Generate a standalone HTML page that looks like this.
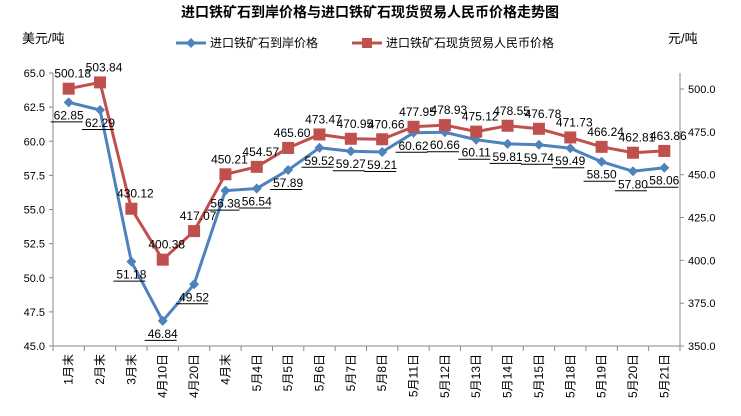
<!DOCTYPE html>
<html><head><meta charset="utf-8"><style>
body{margin:0;background:#fff;font-family:"Liberation Sans","Noto Sans CJK SC",sans-serif}
svg text{font-family:"Liberation Sans","Noto Sans CJK SC",sans-serif}
</style></head><body>
<svg id="c" width="741" height="411" xmlns="http://www.w3.org/2000/svg">
<text x="370" y="17" text-anchor="middle" font-size="14" font-weight="bold">进口铁矿石到岸价格与进口铁矿石现货贸易人民币价格走势图</text>
<text x="22" y="43" font-size="13">美元/吨</text>
<text x="668" y="43" font-size="13">元/吨</text>
<g>
<g><line x1="176" y1="43" x2="206" y2="43" stroke="#4f81bd" stroke-width="3"/><path d="M191 38 L196 43 L191 48 L186 43Z" fill="#4f81bd"/><text x="210" y="47" font-size="12">进口铁矿石到岸价格</text></g>
<g><line x1="352" y1="43" x2="382" y2="43" stroke="#c0504d" stroke-width="3"/><rect x="362" y="38" width="10" height="10" fill="#c0504d"/><text x="386" y="47" font-size="12">进口铁矿石现货贸易人民币价格</text></g>
</g>
<g id="axes"></g><g id="marks"></g>
</svg>
<script>
const categories=["1月末","2月末","3月末","4月10日","4月20日","4月末","5月4日","5月5日","5月6日","5月7日","5月8日","5月11日","5月12日","5月13日","5月14日","5月15日","5月18日","5月19日","5月20日","5月21日"];
const usdValues=[62.85,62.29,51.18,46.84,49.52,56.38,56.54,57.89,59.52,59.27,59.21,60.62,60.66,60.11,59.81,59.74,59.49,58.50,57.80,58.06];
const cnyValues=[500.18,503.84,430.12,400.38,417.07,450.21,454.57,465.60,473.47,470.95,470.66,477.95,478.93,475.12,478.55,476.78,471.73,466.24,462.81,463.86];
const leftTicks=[45,47.5,50,52.5,55,57.5,60,62.5,65];
const rightTicks=[350,375,400,425,450,475,500];
const NS="http://www.w3.org/2000/svg";
const L=53,R=680,T=73,B=346;
const yL=v=>B-(v-45)/(65-45)*(B-T);
const yR=v=>346-(v-350)/(500-350)*(346-89);
const step=(R-L)/categories.length;
const xC=i=>L+step*(i+0.5);
function mk(p,tag,a,txt){const e=document.createElementNS(NS,tag);for(const k in a)e.setAttribute(k,a[k]);if(txt!=null)e.textContent=txt;p.appendChild(e);return e;}
const ax=document.getElementById('axes'),mg=document.getElementById('marks');
let e=mk(ax,'line',{x1:L,y1:T,x2:L,y2:B,stroke:'#888'});

e=mk(ax,'line',{x1:R,y1:T,x2:R,y2:B,stroke:'#888'});

e=mk(ax,'line',{x1:L,y1:B,x2:R,y2:B,stroke:'#888'});

leftTicks.forEach(v=>{const y=yL(v);mk(ax,'line',{x1:L-4,y1:y,x2:L,y2:y,stroke:'#888'});
 const t=mk(ax,'text',{x:L-8,y:y+4,'font-size':11,'text-anchor':'end'},v.toFixed(1));
 });
rightTicks.forEach(v=>{const y=yR(v);mk(ax,'line',{x1:R,y1:y,x2:R+4,y2:y,stroke:'#888'});
 const t=mk(ax,'text',{x:R+8,y:y+4,'font-size':11},v.toFixed(1));
 });
categories.forEach((c,i)=>{const x=L+step*i;mk(ax,'line',{x1:x,y1:B,x2:x,y2:B+5,stroke:'#888'});
 const t=mk(ax,'text',{x:0,y:0,'font-size':12,'text-anchor':'end',transform:`translate(${xC(i)+4},${B+8}) rotate(-90)`},c);
 });
mk(ax,'line',{x1:R,y1:B,x2:R,y2:B+5,stroke:'#888'});
const pb=usdValues.map((v,i)=>xC(i)+','+yL(v)).join(' ');
e=mk(mg,'polyline',{points:pb,fill:'none',stroke:'#4f81bd','stroke-width':3});

const pr=cnyValues.map((v,i)=>xC(i)+','+yR(v)).join(' ');
e=mk(mg,'polyline',{points:pr,fill:'none',stroke:'#c0504d','stroke-width':3});

usdValues.forEach((v,i)=>{const x=xC(i),y=yL(v);
 const m=mk(mg,'path',{d:`M${x} ${y-5}L${x+5} ${y}L${x} ${y+5}L${x-5} ${y}Z`,fill:'#4f81bd'});
 
 const t=mk(mg,'text',{x:x,y:y+17,'font-size':12,'text-anchor':'middle'},v.toFixed(2));
 
 mk(mg,'line',{x1:x-18,y1:y+19.5,x2:x+14,y2:y+19.5,stroke:'#000','stroke-width':1});});
cnyValues.forEach((v,i)=>{const x=xC(i),y=yR(v);
 const m=mk(mg,'rect',{x:x-6,y:y-6,width:12,height:12,fill:'#c0504d'});
 
 const t=mk(mg,'text',{x:x+4,y:y-11,'font-size':12,'text-anchor':'middle'},v.toFixed(2));
 });
</script>
</body></html>
